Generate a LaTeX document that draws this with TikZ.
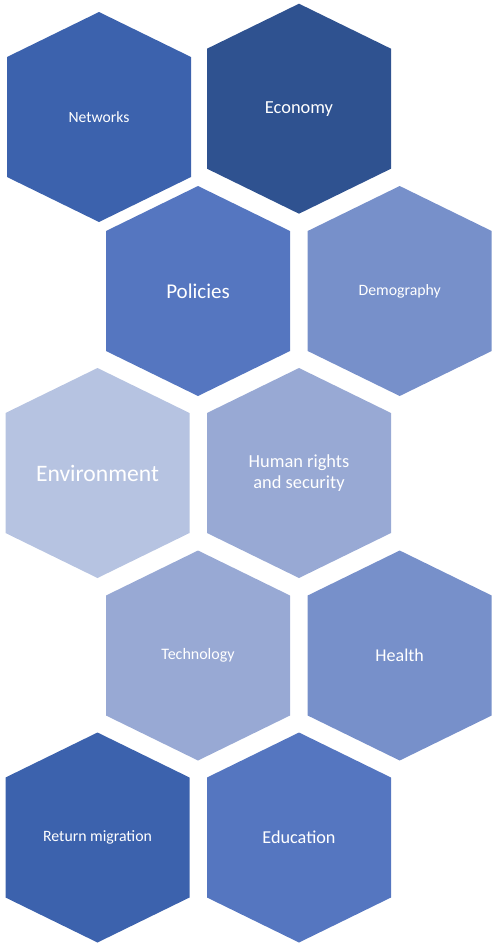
\documentclass[tikz,border=0pt]{standalone}
\usepackage{fontspec}
\setmainfont{Carlito}
\usepackage{tikz}

\definecolor{netcol}{HTML}{3C62AD}
\definecolor{ecocol}{HTML}{2F5290}
\definecolor{polcol}{HTML}{5576C0}
\definecolor{demcol}{HTML}{7790CA}
\definecolor{envcol}{HTML}{B6C3E1}
\definecolor{humcol}{HTML}{98A9D4}

\tikzset{
  hexa/.pic = {\fill[pic actions] (0,-105) -- (92,-60) -- (92,60) -- (0,105) -- (-92,60) -- (-92,-60) -- cycle;},
  lbl/.style = {text = white, align = center, inner sep = 0, font = \fontsize{#1}{21.5}\selectfont}
}

\begin{document}
\begin{tikzpicture}[x = 1pt, y = -1pt]
\useasboundingbox (0,0) rectangle (493,943);
% row 1
\pic[fill = netcol] at (99,117) {hexa};
\node[lbl = 15.6] (networks) at (99,117) {Networks};
\pic[fill = ecocol] at (299,108.7) {hexa};
\node[lbl = 18.4] (economy) at (299,108.7) {Economy};
% row 2
\pic[fill = polcol] at (198,291) {hexa};
\node[lbl = 21] (policies) at (198,291) {Policies};
\pic[fill = demcol] at (399.7,291) {hexa};
\node[lbl = 15.8] (demography) at (399.7,291) {Demography};
% row 3
\pic[fill = envcol] at (97.5,473) {hexa};
\node[lbl = 23.6] (environment) at (97.5,473) {Environment};
\pic[fill = humcol] at (299,473) {hexa};
\node[lbl = 18.4] (humanrights) at (299,473) {Human rights\\and security};
% row 4
\pic[fill = humcol] at (198,655.5) {hexa};
\node[lbl = 16] (technology) at (198,655.5) {Technology};
\pic[fill = demcol] at (399.7,655.5) {hexa};
\node[lbl = 18] (health) at (399.7,655.5) {Health};
% row 5
\pic[fill = netcol] at (97.5,837.5) {hexa};
\node[lbl = 15.8] (returnmig) at (97.5,837.5) {Return migration};
\pic[fill = polcol] at (299,837.5) {hexa};
\node[lbl = 18.2] (education) at (299,837.5) {Education};
\end{tikzpicture}
\end{document}
